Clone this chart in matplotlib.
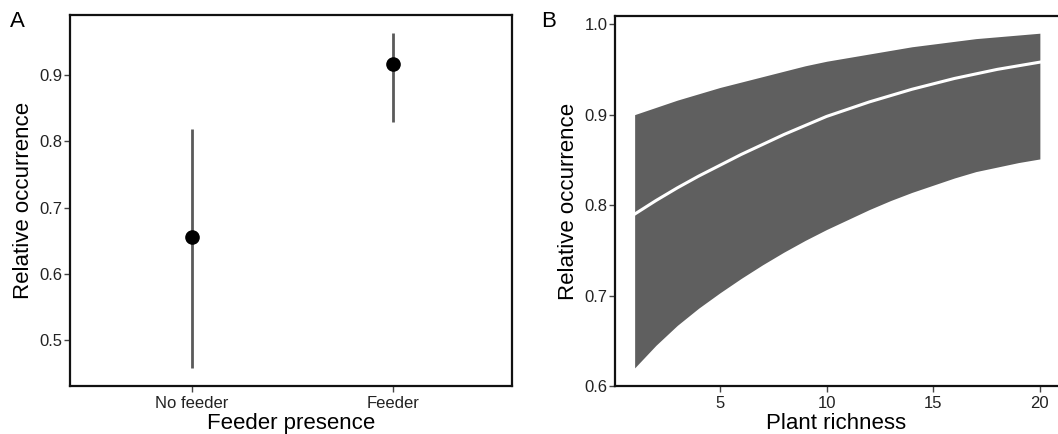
import numpy as np
import matplotlib.pyplot as plt

plt.rcParams['font.family'] = ['Liberation Sans', 'DejaVu Sans']

# Panel A: feeder presence
feeder_labels = ["No feeder", "Feeder"]
feeder_mean = [0.656, 0.917]
feeder_low = [0.458, 0.829]
feeder_high = [0.818, 0.963]

# Panel B: plant richness fit with ribbon
richness = [1, 2, 3, 4, 5, 6, 7, 8, 9, 10, 11, 12, 13, 14, 15, 16, 17, 18, 19, 20]
richness_mean = [0.790, 0.805, 0.819, 0.832, 0.844, 0.856, 0.867, 0.878, 0.888, 0.898,
                 0.906, 0.914, 0.921, 0.928, 0.934, 0.940, 0.945, 0.950, 0.954, 0.958]
richness_low = [0.620, 0.645, 0.667, 0.686, 0.703, 0.719, 0.734, 0.748, 0.761, 0.773,
                0.784, 0.795, 0.805, 0.814, 0.822, 0.830, 0.837, 0.842, 0.847, 0.851]
richness_high = [0.900, 0.908, 0.916, 0.923, 0.930, 0.936, 0.942, 0.948, 0.954, 0.959,
                 0.963, 0.967, 0.971, 0.975, 0.978, 0.981, 0.984, 0.986, 0.988, 0.990]

fig = plt.figure(figsize=(10.58, 4.34), dpi=100)
ax1 = fig.add_axes([0.0662, 0.1106, 0.4178, 0.8548])
ax2 = fig.add_axes([0.5813, 0.1106, 0.4187, 0.8525])

# --- A ---
x = np.arange(len(feeder_labels))
ax1.vlines(x, feeder_low, feeder_high, color="#5a5a5a", lw=2.0, zorder=2)
ax1.plot(x, feeder_mean, "o", color="black", ms=9.5, zorder=3)
ax1.set_xticks(x)
ax1.set_xticklabels(feeder_labels)
ax1.set_xlim(-0.607, 1.592)
ax1.set_ylim(0.4306, 0.9906)
ax1.set_yticks([0.5, 0.6, 0.7, 0.8, 0.9])
ax1.set_ylabel("Relative occurrence", fontsize=16, labelpad=4)
ax1.set_xlabel("Feeder presence", fontsize=16, labelpad=2)
for s in ax1.spines.values():
    s.set_linewidth(1.6)
    s.set_color("#111111")

# --- B ---
ax2.fill_between(richness, richness_low, richness_high, color="#5f5f5f", lw=0, zorder=1)
ax2.plot(richness, richness_mean, color="white", lw=2.2, zorder=2)
ax2.set_xlim(0.08, 20.85)
ax2.set_ylim(0.6, 1.009)
ax2.set_xticks([5, 10, 15, 20])
ax2.set_yticks([0.6, 0.7, 0.8, 0.9, 1.0])
ax2.set_ylabel("Relative occurrence", fontsize=16, labelpad=4)
ax2.set_xlabel("Plant richness", fontsize=16, labelpad=2)
ax2.spines["right"].set_visible(False)
for s in ["left", "bottom", "top"]:
    ax2.spines[s].set_linewidth(1.6)
    ax2.spines[s].set_color("#111111")

for ax in (ax1, ax2):
    ax.tick_params(labelsize=12, length=4, width=1, color="#444444", labelcolor="#222222", pad=1.5)
ax1.tick_params(axis="x", pad=3)
ax2.tick_params(axis="x", pad=3)

fig.text(0.0095, 0.975, "A", fontsize=16, va="top", ha="left")
fig.text(0.5115, 0.975, "B", fontsize=16, va="top", ha="left")

fig.savefig("out.png", dpi=100)
